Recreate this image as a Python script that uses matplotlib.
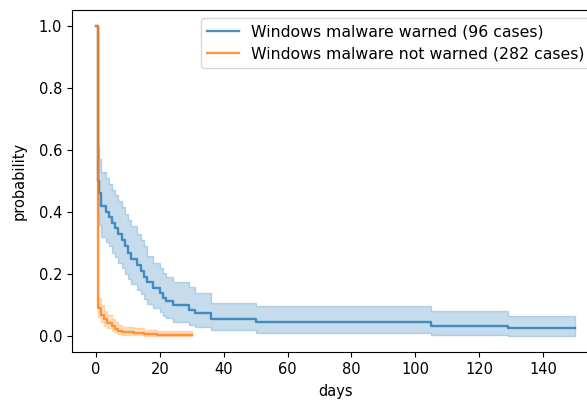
import matplotlib
matplotlib.use('Agg')
import matplotlib.pyplot as plt

# Kaplan-Meier style curves
blue_time = [0, 0.5, 1, 1.5, 3, 4, 5, 6, 7, 8, 9, 10, 11, 13, 14, 15, 16, 18, 20, 21,
             22, 24, 29, 31, 36, 50, 105, 129, 150]
blue_surv = [1.0, 0.50, 0.46, 0.42, 0.40, 0.385, 0.365, 0.35, 0.33, 0.31, 0.29, 0.27,
             0.25, 0.23, 0.21, 0.19, 0.175, 0.155, 0.14, 0.125, 0.115, 0.10, 0.085,
             0.075, 0.055, 0.045, 0.035, 0.026, 0.026]
blue_upper = [1.0, 0.61, 0.57, 0.53, 0.51, 0.49, 0.47, 0.455, 0.435, 0.415, 0.395, 0.375,
              0.355, 0.33, 0.31, 0.29, 0.26, 0.235, 0.22, 0.205, 0.19, 0.175, 0.16,
              0.14, 0.108, 0.098, 0.082, 0.066, 0.066]
blue_lower = [1.0, 0.40, 0.36, 0.32, 0.305, 0.29, 0.27, 0.255, 0.235, 0.22, 0.20, 0.185,
              0.17, 0.15, 0.135, 0.12, 0.105, 0.09, 0.08, 0.065, 0.058, 0.048, 0.037,
              0.03, 0.02, 0.012, 0.006, 0.002, 0.002]

orange_time = [0, 0.5, 1.5, 2.5, 3.5, 5, 6, 7, 8, 12, 15, 19, 30]
orange_surv = [1.0, 0.09, 0.07, 0.055, 0.043, 0.033, 0.025, 0.018, 0.014, 0.011, 0.008,
               0.005, 0.005]
orange_upper = [1.0, 0.125, 0.10, 0.083, 0.068, 0.056, 0.046, 0.037, 0.031, 0.027, 0.022,
                0.017, 0.017]
orange_lower = [1.0, 0.063, 0.047, 0.035, 0.026, 0.018, 0.012, 0.008, 0.006, 0.004, 0.003,
                0.001, 0.001]

labels = ['Windows malware warned (96 cases)', 'Windows malware not warned (282 cases)']

fig = plt.figure(figsize=(5.87, 4.0), dpi=100)
ax = fig.add_axes([72 / 587, 48 / 400, 527 / 587, 342 / 400])

series = [(blue_time, blue_surv, blue_lower, blue_upper, 'C0'),
          (orange_time, orange_surv, orange_lower, orange_upper, 'C1')]
for (t, s, lo, hi, c), lab in zip(series, labels):
    ax.plot(t, s, drawstyle='steps-post', color=c, alpha=0.8, lw=1.7, label=lab)
    ax.fill_between(t, lo, hi, step='post', color=c, alpha=0.25)

ax.set_xlim(-7.5, 157.5)
ax.set_ylim(-0.05, 1.05)
ax.set_xticks(range(0, 141, 20))
ax.set_yticks([0.0, 0.2, 0.4, 0.6, 0.8, 1.0])
ax.tick_params(labelsize=10.5)
ax.set_xlabel('days', fontsize=10.5, labelpad=5)
ax.set_ylabel('probability', fontsize=10.5, labelpad=9)
ax.legend(loc='upper right', fontsize=11.3)

fig.savefig('out.png', dpi=100)
